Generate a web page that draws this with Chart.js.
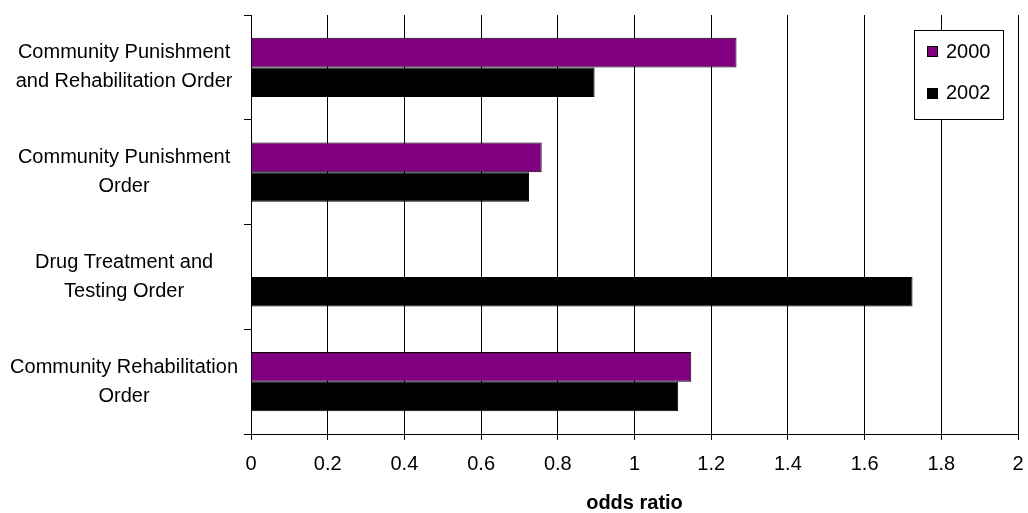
<!DOCTYPE html>
<html>
<head>
<meta charset="utf-8">
<script src="https://cdn.jsdelivr.net/npm/chart.js@4.4.1/dist/chart.umd.min.js"></script>
<style>
    body { margin: 0; background: #fff; }
    #wrap { width: 1028px; height: 513px; }
</style>
</head>
<body>
<div id="wrap"><canvas id="oddsChart" width="1028" height="513"></canvas></div>
<script>
// Odds ratio by order type
const orders = [
    ['Community Punishment', 'and Rehabilitation Order'],
    ['Community Punishment', 'Order'],
    ['Drug Treatment and', 'Testing Order'],
    ['Community Rehabilitation', 'Order']
];
const years = ['2000', '2002'];
const odds2000 = [1.266, 0.758, null, 1.148];
const odds2002 = [0.896, 0.725, 1.725, 1.114];

const FONT = '"Liberation Sans", Arial, sans-serif';

// legend box drawn inside the plot, top right
const boxLegend = {
    id: 'boxLegend',
    afterDraw(chart) {
        const ctx = chart.ctx;
        ctx.save();
        ctx.fillStyle = '#fff';
        ctx.fillRect(914.5, 30.5, 89, 89);
        ctx.strokeStyle = '#000';
        ctx.lineWidth = 1;
        ctx.strokeRect(914.5, 30.5, 89, 89);
        ctx.font = '20px ' + FONT;
        ctx.textBaseline = 'middle';
        chart.data.datasets.forEach((ds, i) => {
            const cy = 51 + i * 41.5;
            const top = Math.round(cy - 5) + 0.5;
            ctx.fillStyle = ds.backgroundColor;
            ctx.fillRect(927.5, top, 10, 10);
            ctx.strokeRect(927.5, top, 10, 10);
            ctx.fillStyle = '#000';
            ctx.fillText(ds.label, 946, cy + 1);
        });
        ctx.restore();
    }
};

new Chart(document.getElementById('oddsChart'), {
    type: 'bar',
    data: {
        labels: orders,
        datasets: [{
            label: years[0],
            data: odds2000,
            backgroundColor: '#800080',
            borderColor: '#000',
            borderWidth: 1,
            barPercentage: 1,
            categoryPercentage: 0.565
        }, {
            label: years[1],
            data: odds2002,
            backgroundColor: '#000',
            borderColor: '#000',
            borderWidth: 1,
            barPercentage: 1,
            categoryPercentage: 0.565
        }]
    },
    options: {
        indexAxis: 'y',
        responsive: false,
        animation: false,
        layout: {
            padding: { top: 15, right: 10, left: 0, bottom: 0 }
        },
        scales: {
            x: {
                min: 0,
                max: 2,
                ticks: {
                    stepSize: 0.2,
                    color: '#000',
                    padding: 12,
                    maxRotation: 0,
                    font: { family: FONT, size: 20 },
                    callback: v => String(Number(v.toFixed(1)))
                },
                grid: {
                    color: '#000',
                    lineWidth: 1,
                    drawTicks: true,
                    tickLength: 6
                },
                border: { color: '#000', width: 1 },
                title: {
                    display: true,
                    text: 'odds ratio',
                    color: '#000',
                    padding: { top: 0, bottom: 0 },
                    font: { family: FONT, size: 20, weight: 'bold', lineHeight: 1 }
                },
                afterFit(s) {
                    s.height = 79;
                    s.paddingLeft = 0;
                    s.paddingRight = 0;
                }
            },
            y: {
                ticks: {
                    color: '#000',
                    padding: 6,
                    crossAlign: 'center',
                    font: { family: FONT, size: 20, lineHeight: 1.45 }
                },
                grid: {
                    offset: true,
                    drawOnChartArea: false,
                    drawTicks: true,
                    tickLength: 7,
                    color: '#000'
                },
                border: { color: '#000', width: 1 },
                afterFit(s) {
                    s.width = 251;
                    s.paddingTop = 0;
                    s.paddingBottom = 0;
                }
            }
        },
        plugins: {
            legend: { display: false },
            tooltip: { enabled: false }
        }
    },
    plugins: [boxLegend]
});
</script>
</body>
</html>
